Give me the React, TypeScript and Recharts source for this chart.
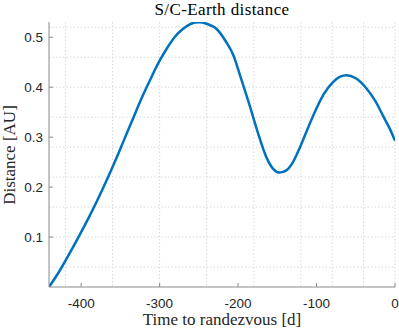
import React from 'react';
import { LineChart, Line, XAxis, YAxis, CartesianGrid } from 'recharts';

// time to rendezvous [d]
const days = [
  -441, -430, -420, -410, -400, -390, -378, -360, -346, -330, -321, -312, -300, -291, -280, -270,
  -260, -250, -240, -227, -215, -206, -197, -185, -175, -164, -155, -147, -138, -130, -121, -110,
  -100, -90, -79, -70, -62, -50, -36, -25, -15, -7, 0,
];

// S/C-Earth distance [AU]
const distance = [
  0, 0.026, 0.053, 0.081, 0.11, 0.14, 0.178, 0.24, 0.292, 0.352, 0.385, 0.415, 0.453, 0.477, 0.502, 0.517,
  0.527, 0.53, 0.527, 0.516, 0.49, 0.464, 0.421, 0.362, 0.31, 0.26, 0.236, 0.229, 0.234, 0.25, 0.28, 0.322,
  0.358, 0.388, 0.41, 0.421, 0.424, 0.418, 0.397, 0.372, 0.342, 0.318, 0.293,
];

const xTicks = [-400, -300, -200, -100, 0];
const yTicks = [0.1, 0.2, 0.3, 0.4, 0.5];

const xMinor = Array.from({ length: 23 }, (_, i) => -440 + i * 20);
const yMinor = Array.from({ length: 27 }, (_, i) => +(i * 0.02).toFixed(2));

const data = days.map((d, i) => ({ d, dist: distance[i] }));

const axisColor = '#8a8a8a';
const tickFont = { fontFamily: '"Liberation Sans", Arial, sans-serif', fontSize: 13.5, fill: '#262626' };
const serif = '"Liberation Serif", "Times New Roman", serif';

export default function App() {
  return (
    <div style={{ position: 'absolute', left: 0, top: 0, width: 399, height: 331, background: '#fff' }}>
      <LineChart width={399} height={331} data={data} margin={{ top: 22, right: 4, bottom: 0, left: 0 }}>
        <CartesianGrid
          stroke="#d9d9d9"
          strokeDasharray="1.5 2"
          horizontalValues={yMinor}
          verticalValues={xMinor}
        />
        <XAxis
          dataKey="d"
          type="number"
          domain={[-441, 0]}
          allowDataOverflow
          ticks={xTicks}
          height={44}
          tickSize={-4}
          tickMargin={15}
          stroke={axisColor}
          tick={tickFont}
        />
        <XAxis
          xAxisId="top"
          orientation="top"
          type="number"
          domain={[-441, 0]}
          allowDataOverflow
          ticks={xTicks}
          height={0}
          tickSize={-4}
          tick={false}
          stroke={axisColor}
        />
        <YAxis
          type="number"
          domain={[0, 0.5305]}
          allowDataOverflow
          ticks={yTicks}
          width={49}
          tickSize={-4}
          tickMargin={10}
          stroke={axisColor}
          tick={tickFont}
        />
        <YAxis
          yAxisId="right"
          orientation="right"
          type="number"
          domain={[0, 0.5305]}
          allowDataOverflow
          ticks={yTicks}
          width={0}
          tickSize={-4}
          tick={false}
          stroke={axisColor}
        />
        <Line
          type="monotone"
          dataKey="dist"
          stroke="#0072BD"
          strokeWidth={2.5}
          dot={false}
          isAnimationActive={false}
        />
      </LineChart>
      <div
        style={{
          position: 'absolute', left: 49, width: 346, top: 0, textAlign: 'center', letterSpacing: 0.4,
          fontFamily: serif, fontSize: 17, color: '#000', whiteSpace: 'nowrap',
        }}
      >
        S/C-Earth distance
      </div>
      <div
        style={{
          position: 'absolute', left: 49, width: 346, top: 312, height: 18, lineHeight: '16px', textAlign: 'center',
          fontFamily: serif, fontSize: 17, color: '#262626', whiteSpace: 'nowrap',
        }}
      >
        Time to randezvous [d]
      </div>
      <div
        style={{
          position: 'absolute', left: 10, top: 155, width: 200, marginLeft: -100, height: 20, marginTop: -10,
          lineHeight: '20px', textAlign: 'center', transform: 'rotate(-90deg)',
          fontFamily: serif, fontSize: 17, color: '#262626', whiteSpace: 'nowrap',
        }}
      >
        Distance [AU]
      </div>
    </div>
  );
}
